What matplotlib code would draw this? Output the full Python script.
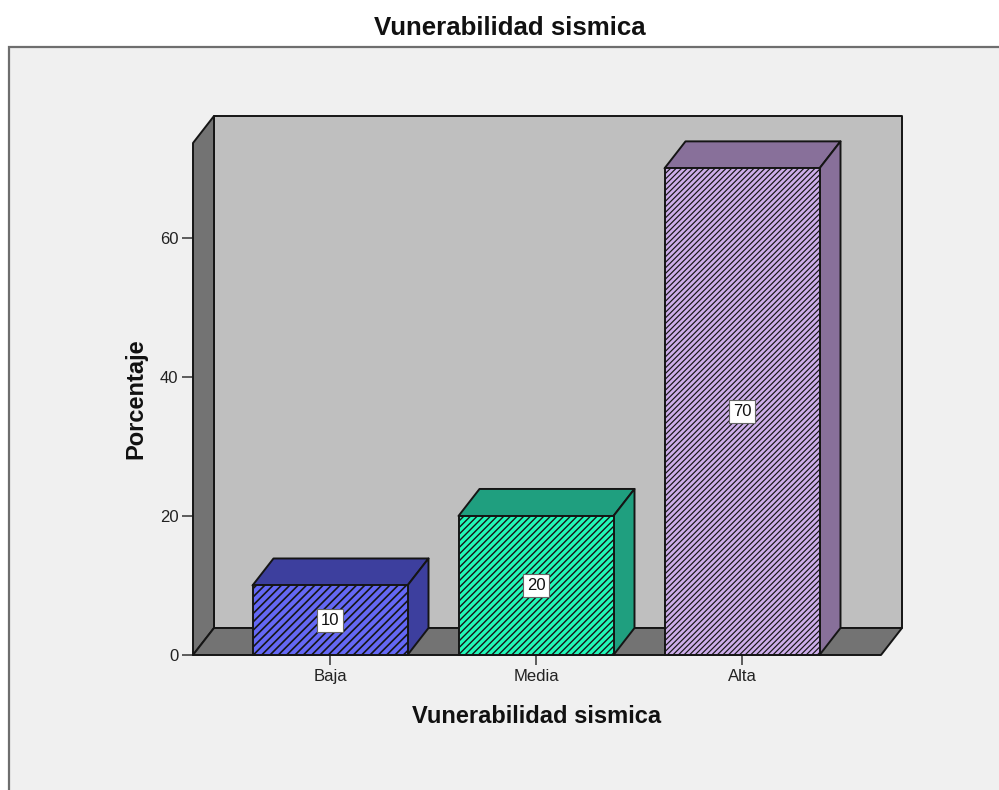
import matplotlib
matplotlib.use("Agg")
import matplotlib.pyplot as plt
from matplotlib.patches import Polygon, Rectangle

TITLE = "Vunerabilidad sismica"
categories = ["Baja", "Media", "Alta"]
values = [10, 20, 70]
y_ticks = [0, 20, 40, 60]

W, H = 999, 790
front_colors = ["#6468f5", "#22f7b8", "#cdaeea"]
side_colors = ["#3d3f9e", "#1f9f7f", "#88709a"]
hatches = ["////", "/////", "//////"]
hatch_widths = [1.2, 1.0, 0.85]
BAR_W = 155 / 206
DX = 21 / 206
DY = 27 / 6.95
YTOP = 73.65
EDGE = "#151515"

plt.rcParams["font.family"] = ["Liberation Sans", "DejaVu Sans"]

fig = plt.figure(figsize=(W / 100, H / 100), dpi=100, facecolor="white")

# grey panel behind everything, runs off the right and bottom edges
fig.add_artist(Rectangle((9 / W, -0.01), 1.0, 1 - 47 / H + 0.01, transform=fig.transFigure,
                         fc="#f0f0f0", ec="#6e6e6e", lw=1.6, zorder=-1))

ax = fig.add_axes([193 / W, 1 - 655 / H, (881 - 193) / W, (655 - 143) / H])
ax.set_xlim((193 - 330) / 206, (881 - 330) / 206)
ax.set_ylim(0, YTOP)
ax.patch.set_visible(False)
for s in ax.spines.values():
    s.set_visible(False)
x0, x1 = ax.get_xlim()


def poly(pts, fc, z):
    ax.add_patch(Polygon(pts, closed=True, fc=fc, ec=EDGE, lw=1.4, zorder=z,
                         clip_on=False, joinstyle="round"))


# back wall, left wall, floor
poly([(x0 + DX, DY), (x1 + DX, DY), (x1 + DX, YTOP + DY), (x0 + DX, YTOP + DY)], "#bfbfbf", 1)
poly([(x0, 0), (x0 + DX, DY), (x0 + DX, YTOP + DY), (x0, YTOP)], "#737373", 2)
poly([(x0, 0), (x1, 0), (x1 + DX, DY), (x0 + DX, DY)], "#737373", 2)

for i, v in enumerate(values):
    l, r = i - BAR_W / 2, i + BAR_W / 2
    poly([(l, v), (r, v), (r + DX, v + DY), (l + DX, v + DY)], side_colors[i], 3)
    poly([(r, 0), (r + DX, DY), (r + DX, v + DY), (r, v)], side_colors[i], 3)
    # patch picks up the hatch width when it is created
    plt.rcParams["hatch.linewidth"] = hatch_widths[i]
    ax.add_patch(Rectangle((l, 0), BAR_W, v, fc=front_colors[i], ec=EDGE, lw=1.4,
                           hatch=hatches[i], zorder=4, clip_on=False))
    ax.text(i, v / 2, str(v), ha="center", va="center", fontsize=12, color="#111111", zorder=5,
            bbox=dict(boxstyle="square,pad=0.25", fc="white", ec="#666666", lw=0.8))

ax.set_xticks(range(len(categories)))
ax.set_xticklabels(categories, fontsize=12, color="#222222")
ax.set_yticks(y_ticks)
ax.set_yticklabels([str(t) for t in y_ticks], fontsize=12, color="#222222")
ax.tick_params(axis="x", length=7.5, width=1.1, color="#333333", pad=2.5)
ax.tick_params(axis="y", length=8, width=1.1, color="#333333", pad=2.5)
ax.set_xlabel(TITLE, fontsize=17, fontweight="bold", labelpad=15.5, color="#111111")
ax.set_ylabel("Porcentaje", fontsize=17, fontweight="bold", labelpad=9, color="#111111")

fig.text(510 / W, 1 - 28 / H, TITLE, ha="center", va="center", fontsize=18.6,
         fontweight="bold", color="#111111")

fig.savefig("out.png", dpi=100, facecolor="white")
